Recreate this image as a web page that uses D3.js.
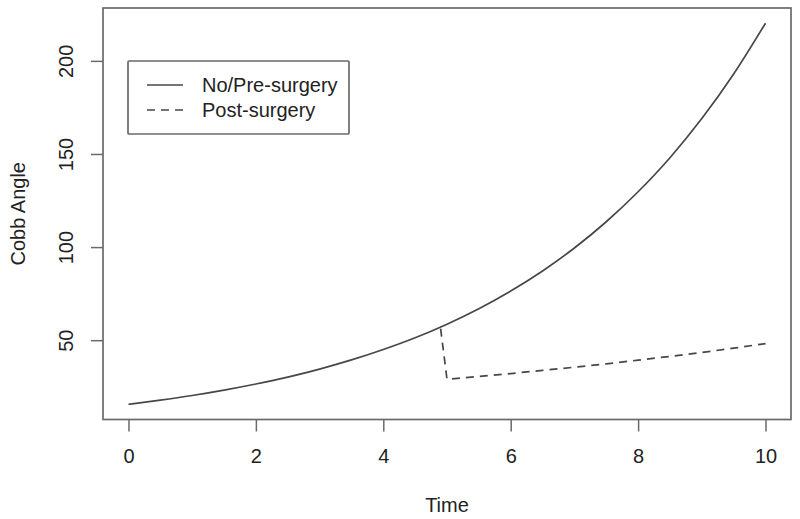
<!DOCTYPE html>
<html>
<head>
<meta charset="utf-8">
<script src="https://cdn.jsdelivr.net/npm/d3@7"></script>
<style>
  html, body { margin: 0; padding: 0; background: #fff; }
  svg { display: block; }
  text { font-family: "Liberation Sans", Arial, Helvetica, sans-serif; fill: #222; }
</style>
</head>
<body>
<svg id="chart" width="800" height="519"></svg>
<script>
// Data
const preTime   = [0, 0.5, 1, 1.5, 2, 2.5, 3, 3.5, 4, 4.5, 5, 5.5, 6, 6.5, 7, 7.5, 8, 8.5, 9, 9.5, 10];
const preAngle  = [15.6, 17.8, 20.3, 23.2, 26.5, 30.2, 34.5, 39.4, 45.0, 51.3, 58.6, 66.9, 76.4, 87.2, 99.5, 113.6, 129.7, 148.0, 169.0, 192.9, 220.2];
const postTime  = [4.9, 5.0, 5.5, 6, 6.5, 7, 7.5, 8, 8.5, 9, 9.5, 10];
const postAngle = [56.2, 29.0, 30.5, 32.1, 33.8, 35.5, 37.3, 39.3, 41.3, 43.4, 45.7, 48.2];
const xTicks = [0, 2, 4, 6, 8, 10];
const yTicks = [50, 100, 150, 200];
const legendLabels = ["No/Pre-surgery", "Post-surgery"];
const xLabel = "Time";
const yLabel = "Cobb Angle";

const svg = d3.select("#chart");
const plot = { left: 103, right: 791, top: 8, bottom: 419.5 };

// R-style 4% padding of the data ranges
const xExt = d3.extent(preTime.concat(postTime));
const yExt = d3.extent(preAngle.concat(postAngle));
const xPad = (xExt[1] - xExt[0]) * 0.04;
const yPad = (yExt[1] - yExt[0]) * 0.04;

const x = d3.scaleLinear().domain([xExt[0] - xPad, xExt[1] + xPad]).range([plot.left, plot.right]);
const y = d3.scaleLinear().domain([yExt[0] - yPad, yExt[1] + yPad]).range([plot.bottom, plot.top]);

const axisColor = "#6a6a6a";
const lineColor = "#474747";
const fontSize = 20;

// Box
svg.append("rect")
  .attr("x", plot.left).attr("y", plot.top)
  .attr("width", plot.right - plot.left).attr("height", plot.bottom - plot.top)
  .attr("fill", "none").attr("stroke", axisColor).attr("stroke-width", 1.7);

// X axis
const xAxis = d3.axisBottom(x).tickValues(xTicks).tickSize(12).tickPadding(17).tickFormat(d3.format("d"));
const gx = svg.append("g").attr("transform", `translate(0,${plot.bottom})`).call(xAxis);
gx.select(".domain").remove();
gx.selectAll(".tick line").attr("stroke", axisColor).attr("stroke-width", 1.5);
gx.selectAll(".tick text").attr("font-size", fontSize).attr("fill", "#222")
  .attr("font-family", '"Liberation Sans", Arial, sans-serif');

// Y axis
const yAxis = d3.axisLeft(y).tickValues(yTicks).tickSize(12).tickPadding(0).tickFormat(d3.format("d"));
const gy = svg.append("g").attr("transform", `translate(${plot.left},0)`).call(yAxis);
gy.select(".domain").remove();
gy.selectAll(".tick line").attr("stroke", axisColor).attr("stroke-width", 1.5);
gy.selectAll(".tick text")
  .attr("font-size", fontSize).attr("fill", "#222")
  .attr("font-family", '"Liberation Sans", Arial, sans-serif')
  .attr("x", null)
  .attr("text-anchor", "middle")
  .attr("transform", "translate(-37,0) rotate(-90)")
  .attr("dy", "0.35em");

// Axis titles
svg.append("text").attr("x", (plot.left + plot.right) / 2).attr("y", 512)
  .attr("text-anchor", "middle").attr("font-size", fontSize).text(xLabel);
svg.append("text")
  .attr("transform", `translate(25,${(plot.top + plot.bottom) / 2}) rotate(-90)`)
  .attr("text-anchor", "middle").attr("font-size", fontSize).text(yLabel);

// Lines
const preData = preTime.map((t, i) => [t, preAngle[i]]);
const postData = postTime.map((t, i) => [t, postAngle[i]]);

svg.append("path")
  .attr("d", d3.line().x(d => x(d[0])).y(d => y(d[1])).curve(d3.curveMonotoneX)(preData))
  .attr("fill", "none").attr("stroke", lineColor).attr("stroke-width", 1.7);

svg.append("path")
  .attr("d", d3.line().x(d => x(d[0])).y(d => y(d[1]))(postData))
  .attr("fill", "none").attr("stroke", lineColor).attr("stroke-width", 1.7)
  .attr("stroke-dasharray", "8,6");

// Legend
const lg = svg.append("g");
lg.append("rect").attr("x", 128).attr("y", 61).attr("width", 221).attr("height", 73)
  .attr("fill", "#fff").attr("stroke", axisColor).attr("stroke-width", 1.7).attr("rx", 1);
legendLabels.forEach((lab, i) => {
  const yy = 85 + i * 25;
  lg.append("line").attr("x1", 147).attr("x2", 183).attr("y1", yy).attr("y2", yy)
    .attr("stroke", lineColor).attr("stroke-width", 1.7)
    .attr("stroke-dasharray", i === 1 ? "8,6" : null);
  lg.append("text").attr("x", 202).attr("y", yy).attr("dy", "0.35em")
    .attr("font-size", fontSize).text(lab);
});
</script>
</body>
</html>
